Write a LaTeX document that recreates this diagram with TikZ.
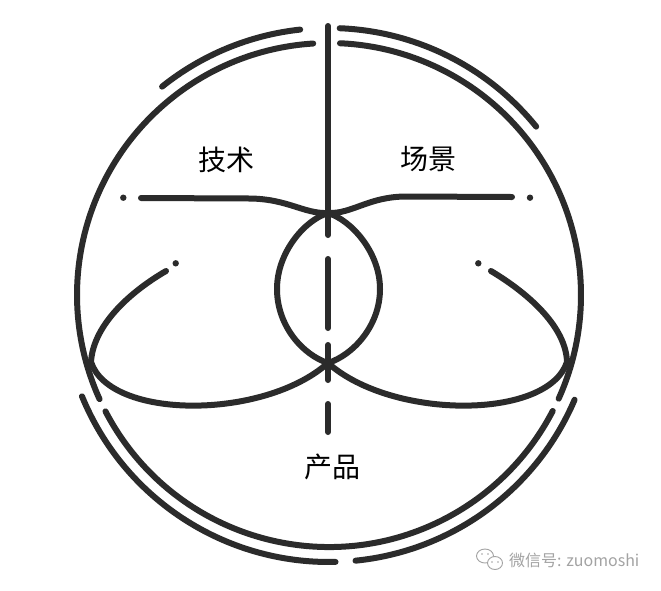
\documentclass[tikz,border=0pt]{standalone}
\usepackage{fontspec}
\newfontfamily\cjk{Noto Sans CJK SC}
\definecolor{ink}{HTML}{2B2B2B}
\definecolor{markgray}{HTML}{A3A3A3}
\tikzset{
  stroke/.style={draw=ink, line width=6pt, line cap=round, line join=round},
  dotmark/.style={fill=ink, draw=none},
  cjklabel/.style={font=\cjk\fontsize{28}{28}\selectfont, text=black, inner sep=0pt},
  wmtext/.style={font=\cjk\fontsize{16}{16}\selectfont, text=markgray, inner sep=0pt, anchor=west},
  wmicon/.style={draw=markgray, line width=0.9pt, fill=white},
}
\begin{document}
\begin{tikzpicture}[x=1pt,y=-1pt]
\useasboundingbox[fill=white] (0,0) rectangle (661,590);
\coordinate (C) at (329,295);

% main circle (three arcs)
\draw[stroke] ([shift={(-93.6:252)}]C) arc[start angle=-93.6, end angle=-204.4, radius=252];
\draw[stroke] ([shift={(-207.5:252)}]C) arc[start angle=-207.5, end angle=-332.6, radius=252];
\draw[stroke] ([shift={(24.3:252)}]C) arc[start angle=24.3, end angle=-87.5, radius=252];

% outer arcs
\draw[stroke] ([shift={(-96.2:267)}]C) arc[start angle=-96.2, end angle=-128.7, radius=267];
\draw[stroke] ([shift={(-87.7:267)}]C) arc[start angle=-87.7, end angle=-39.1, radius=267];
\draw[stroke] ([shift={(-202.3:267)}]C) arc[start angle=-202.3, end angle=-271.4, radius=267];
\draw[stroke] ([shift={(-275.7:267)}]C) arc[start angle=-275.7, end angle=-336.9, radius=267];

% vertical axis
\coordinate (V0) at (328,26);
\coordinate (V1) at (328,235);
\coordinate (D1a) at (328,259);
\coordinate (D1b) at (328,328);
\coordinate (D2a) at (328,345);
\coordinate (D2b) at (328,380);
\coordinate (D3a) at (328,404);
\coordinate (D3b) at (328,432);
\draw[stroke] (V0) -- (V1);
\draw[stroke] (D1a) -- (D1b);
\draw[stroke] (D2a) -- (D2b);
\draw[stroke] (D3a) -- (D3b);

% junctions
\coordinate (J1) at (328,213);
\coordinate (J2) at (328,363);

% wings
\coordinate (WL) at (141,198);
\coordinate (WR) at (512,197);
\draw[stroke] (WL) -- (250,198.5) .. controls (288,199) and (304,214) .. (J1)
  .. controls (352,214) and (368,197) .. (405,196.5) -- (WR);
\fill[dotmark] (123.3,197.7) circle[radius=3.2];
\fill[dotmark] (530,197.7) circle[radius=3.2];

% central lens
\draw[stroke] (J1) .. controls (305,220) and (277,252) .. (277,289)
  .. controls (277,326) and (303,355) .. (J2)
  .. controls (353,355) and (380,326) .. (380,289)
  .. controls (380,252) and (351,220) .. (J1) -- cycle;

% lobes
\draw[stroke] (166,271) .. controls (125,295) and (93,328) .. (91,362)
  .. controls (110,420) and (264,420) .. (J2);
\draw[stroke] (491,271) .. controls (531,295) and (566,328) .. (567,362)
  .. controls (548,420) and (392,420) .. (J2);
\fill[dotmark] (175.7,263.3) circle[radius=3.2];
\fill[dotmark] (478.3,263.3) circle[radius=3.2];

% labels
\node[cjklabel] (tech) at (226,159.5) {技术};
\node[cjklabel] (scene) at (428,159.5) {场景};
\node[cjklabel] (prod) at (332,467) {产品};

% watermark
\draw[wmicon] (485,556) ellipse[x radius=8.5, y radius=7];
\draw[wmicon] (495,563) ellipse[x radius=7.5, y radius=6.5];
\fill[markgray] (482,554) circle[radius=0.9];
\fill[markgray] (488,554) circle[radius=0.9];
\fill[markgray] (492,562) circle[radius=0.8];
\fill[markgray] (498,562) circle[radius=0.8];
\node[wmtext] (wm) at (509,560) {微信号: zuomoshi};
\end{tikzpicture}
\end{document}
